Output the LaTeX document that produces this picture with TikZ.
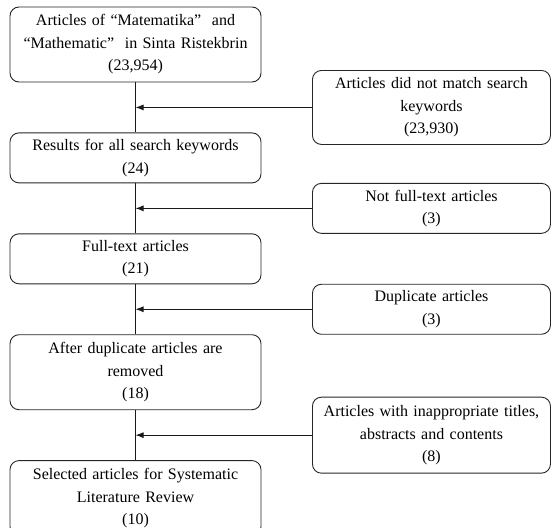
\documentclass[tikz,border=0pt]{standalone}
\usepackage{fontspec}
\setmainfont{Liberation Serif}
\usetikzlibrary{positioning,arrows.meta}
\tikzset{every node/.style={font=\fontsize{16}{22.5}\selectfont},
  stage/.style={draw=black!85,rounded corners=9pt,line width=0.9pt,align=center,text width=245pt,minimum width=251pt,inner sep=0pt},
  excl/.style={stage,text width=232pt,minimum width=238pt},
  flow/.style={draw=black!90,line width=0.9pt}}
\begin{document}
\begin{tikzpicture}[x=1pt,y=1pt]
    \useasboundingbox (0,0) rectangle (551,-527);
    % main stages
    \node[stage,minimum height=75pt] (all) at (135.5,-44.5) {Articles of “Matematika”\ \ and\\ “Mathematic”\ \ in Sinta Ristekbrin\\ (23,954)};
    \node[stage,minimum height=50pt,below=50pt of all] (res) {Results for all search keywords\\ (24)};
    \node[stage,minimum height=50pt,below=50pt of res] (full) {Full-text articles\\ (21)};
    \node[stage,minimum height=75pt,below=50pt of full] (dedup) {After duplicate articles are\\ removed\\ (18)};
    \node[stage,minimum height=75pt,below=50pt of dedup] (sel) {Selected articles for Systematic\\ Literature Review\\ (10)};
    \coordinate[below=25pt of all] (m1);
    \coordinate[below=25pt of res] (m2);
    \coordinate[below=25pt of full] (m3);
    \coordinate[below=25pt of dedup] (m4);
    % excluded articles
    \node[excl,minimum height=74pt,right=176.5pt of m1] (nomatch) {Articles did not match search\\ keywords\\ (23,930)};
    \node[excl,minimum height=50pt,right=176.5pt of m2] (nofull) {Not full-text articles\\ (3)};
    \node[excl,minimum height=50pt,right=176.5pt of m3] (dup) {Duplicate articles\\ (3)};
    \node[excl,minimum height=76pt,right=176.5pt of m4] (inapp) {Articles with inappropriate titles,\\ abstracts and contents\\ (8)};
    \draw[flow] (all) -- (res) -- (full) -- (dedup) -- (sel);
    \draw[flow,-{Latex[length=8pt,width=6pt]}] (nomatch.west) -- (m1);
    \draw[flow,-{Latex[length=8pt,width=6pt]}] (nofull.west) -- (m2);
    \draw[flow,-{Latex[length=8pt,width=6pt]}] (dup.west) -- (m3);
    \draw[flow,-{Latex[length=8pt,width=6pt]}] (inapp.west) -- (m4);
\end{tikzpicture}
\end{document}
